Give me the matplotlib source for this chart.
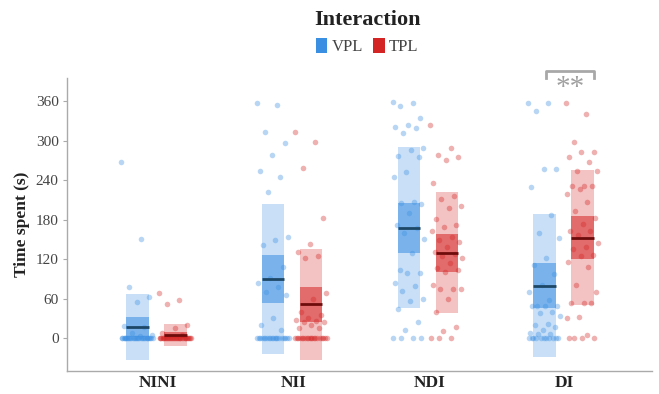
import numpy as np
import matplotlib
matplotlib.use("Agg")
import matplotlib.pyplot as plt
from matplotlib.patches import Patch

plt.rcParams['font.family'] = ['Liberation Serif', 'DejaVu Serif']

# conditions and interaction types
conditions = ['NINI', 'NII', 'NDI', 'DI']
series = ['VPL', 'TPL']

vpl_points = [
    [268, 150, 78, 62, 55, 18, 17, 8, 5, 3] + [0] * 30,
    [357, 354, 313, 297, 278, 254, 244, 222, 153, 149, 141, 108, 92, 83, 78, 70, 66, 30, 20, 12] + [0] * 20,
    [358, 357, 352, 334, 324, 321, 319, 311, 288, 285, 277, 275, 253, 244, 207, 205, 204, 190, 172,
     167, 160, 150, 129, 104, 99, 99, 83, 79, 72, 60, 57, 44, 24, 12, 0, 0, 0, 0],
    [357, 357, 345, 257, 257, 229, 187, 159, 152, 121, 111, 98, 80, 70, 58, 48, 48, 48, 48, 40, 38,
     34, 22, 20, 17, 12, 7, 6, 6] + [0] * 11,
]
tpl_points = [
    [68, 58, 51, 20, 15, 8, 5] + [0] * 33,
    [313, 298, 258, 183, 143, 130, 125, 121, 68, 60, 40, 35, 30, 27, 26, 24, 24, 20, 15, 15] + [0] * 20,
    [324, 288, 278, 275, 270, 235, 216, 211, 200, 197, 181, 172, 168, 162, 154, 149, 146, 139, 130,
     128, 124, 121, 114, 106, 103, 101, 80, 74, 74, 74, 60, 39, 17, 11, 0, 0, 0],
    [357, 340, 298, 283, 283, 275, 268, 254, 254, 231, 231, 231, 227, 219, 207, 193, 183, 174, 162,
     162, 157, 144, 139, 135, 126, 124, 116, 108, 80, 70, 53, 53, 53, 32, 31, 5, 0, 0, 0, 0],
]

# summary stats shown as bars: mean, sd (light band), 95% ci (dark band)
vpl_mean = [16.7, 90, 167.5, 79.6]
vpl_sd = [50, 114, 122, 109]
vpl_ci = [15.2, 36, 38, 34.5]
tpl_mean = [4.7, 51, 129.5, 152.6]
tpl_sd = [16.4, 84.2, 92, 103]
tpl_ci = [5.1, 26.3, 29.2, 33]

yticks = [0, 60, 120, 180, 240, 300, 360]

colors = {'VPL': '#3b8fe3', 'TPL': '#d42424'}
line_colors = {'VPL': '#1d4766', 'TPL': '#6e0c0c'}
offsets = {'VPL': -0.15, 'TPL': 0.13}
bar_w = 0.165

fig = plt.figure(figsize=(6.59, 3.94), dpi=100)
ax = fig.add_axes([0.1017, 0.0584, 0.887, 0.7436])

data = {'VPL': (vpl_points, vpl_mean, vpl_sd, vpl_ci),
        'TPL': (tpl_points, tpl_mean, tpl_sd, tpl_ci)}

for s in series:
    pts, means, sds, cis = data[s]
    c = colors[s]
    for i, cond in enumerate(conditions):
        x = i + 1 + offsets[s]
        m, sd, ci = means[i], sds[i], cis[i]
        ax.bar(x, 2 * sd, bottom=m - sd, width=bar_w, color=c, alpha=0.28,
               linewidth=0, zorder=1)
        ax.bar(x, 2 * ci, bottom=m - ci, width=bar_w, color=c, alpha=0.55,
               linewidth=0, zorder=2)
        vals = np.array(pts[i], dtype=float)
        # deterministic horizontal spread of points
        k = np.arange(len(vals))
        jit = ((k * 0.6180339887) % 1.0 - 0.5) * 0.24
        ax.scatter(x + jit, vals, s=16, color=c, alpha=0.36, linewidths=0, zorder=3)
        ax.plot([x - bar_w / 2, x + bar_w / 2], [m, m], color=line_colors[s],
                lw=2, solid_capstyle='butt', zorder=4)

# significance bracket over DI
xb0, xb1 = 4 + offsets['VPL'] + 0.01, 4 + offsets['TPL'] + 0.085
ax.plot([xb0, xb0, xb1, xb1], [395, 406, 406, 395], color='#a8a8a8', lw=2,
        clip_on=False, zorder=5)
ax.text((xb0 + xb1) / 2, 399, '**', ha='center', va='top', fontsize=21,
        color='#a0a0a0', clip_on=False)

ax.set_xlim(0.33, 4.64)
ax.set_ylim(-50, 395)
ax.set_yticks(yticks)
ax.set_yticklabels([str(v) for v in yticks], fontsize=11, color='#444444')
ax.set_xticks(range(1, 5))
ax.set_xticklabels(conditions, fontsize=12.5, fontweight='bold', color='#222222')
ax.tick_params(axis='x', length=0, pad=3)
ax.tick_params(axis='y', length=3, color='#aaaaaa', pad=3)
ax.set_ylabel('Time spent (s)', fontsize=12.5, fontweight='bold', color='#222222')
for side in ['top', 'right']:
    ax.spines[side].set_visible(False)
for side in ['left', 'bottom']:
    ax.spines[side].set_color('#aaaaaa')
    ax.spines[side].set_linewidth(1)

handles = [Patch(facecolor=colors[s], edgecolor='none') for s in series]
leg = fig.legend(handles, series, loc='upper center', bbox_to_anchor=(0.557, 1.0),
                 ncol=2, frameon=False, title='Interaction', fontsize=12,
                 handlelength=0.7, handleheight=1.0, handletextpad=0.25,
                 columnspacing=0.6, borderaxespad=0.2,
                 title_fontproperties={'family': 'Liberation Serif', 'weight': 'bold', 'size': 16})
for t in leg.get_texts():
    t.set_color('#444444')
leg.get_title().set_color('#222222')

fig.savefig('out.png', dpi=100)
